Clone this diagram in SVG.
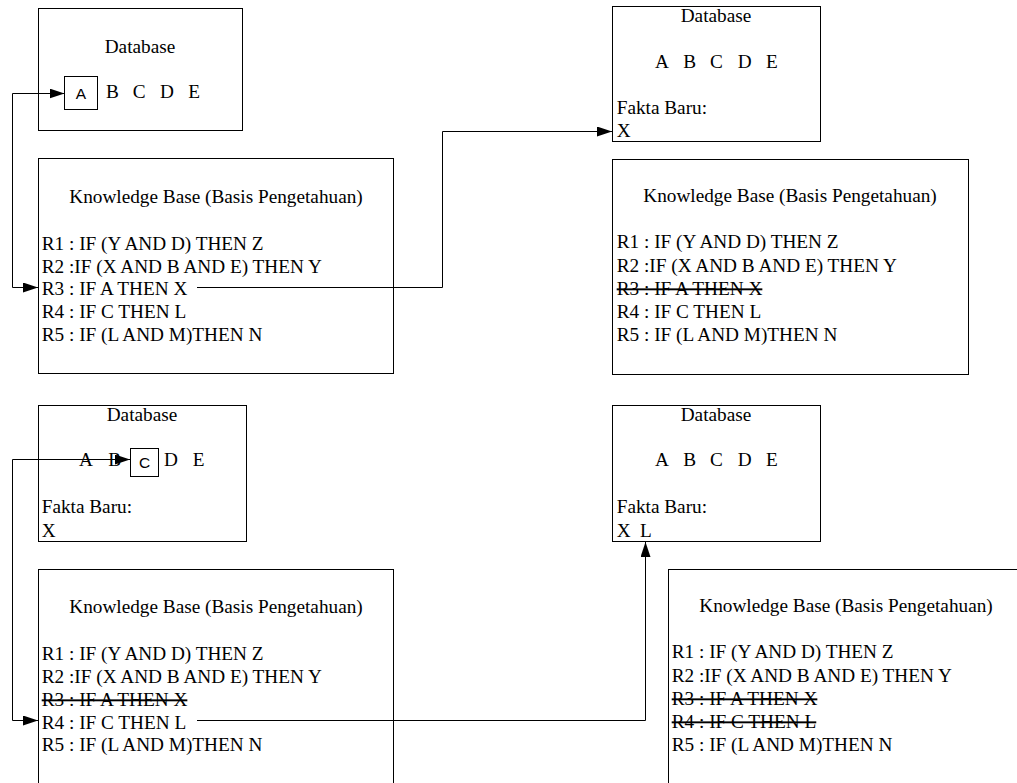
<svg xmlns="http://www.w3.org/2000/svg" width="1017" height="783" viewBox="0 0 1017 783">
  <style>
    .box { fill: #fff; stroke: #000; stroke-width: 1; }
    .t { font-family: "Liberation Serif", "Times New Roman", serif; font-size: 19.25px; fill: #000; }
    .c { text-anchor: middle; }
    .s { font-family: "Liberation Sans", Arial, sans-serif; font-size: 15.5px; fill: #000; text-anchor: middle; }
    .x { text-decoration: line-through; }
    .wire { fill: none; stroke: #000; stroke-width: 1; }
  </style>
  <defs>
    <marker id="arrow" markerUnits="userSpaceOnUse" markerWidth="16" markerHeight="11" refX="15" refY="5" orient="auto-start-reverse">
      <path d="M0,0 L15,5 L0,10 Z" fill="#000"/>
    </marker>
  </defs>

  <rect width="1017" height="783" fill="#fff"/>

  <!-- Step 1: database -->
  <g id="db1">
    <rect class="box" x="38.5" y="8.5" width="204" height="122"/>
    <text class="t c" x="140" y="53">Database</text>
    <rect class="box" x="64.5" y="76.5" width="33" height="33"/>
    <text class="s" x="81" y="98.5">A</text>
    <text class="t" y="98.3"><tspan x="106">B</tspan><tspan x="132.7">C</tspan><tspan x="160">D</tspan><tspan x="188.3">E</tspan></text>
  </g>

  <!-- Step 1: knowledge base -->
  <g id="kb1">
    <rect class="box" x="38.5" y="158.5" width="355" height="215"/>
    <text class="t c" x="216" y="203.3">Knowledge Base (Basis Pengetahuan)</text>
    <text class="t" x="41.7" y="250">R1 : IF (Y AND D) THEN Z</text>
    <text class="t" x="41.7" y="272.7">R2 :IF (X AND B AND E) THEN Y</text>
    <text class="t" x="41.7" y="295.4">R3 : IF A THEN X</text>
    <text class="t" x="41.7" y="318.1">R4 : IF C THEN L</text>
    <text class="t" x="41.7" y="340.8">R5 : IF (L AND M)THEN N</text>
  </g>

  <!-- Step 2: database -->
  <g id="db2">
    <rect class="box" x="612.5" y="6.5" width="208" height="135"/>
    <text class="t c" x="716" y="21.7">Database</text>
    <text class="t" y="67.7"><tspan x="655">A</tspan><tspan x="683.3">B</tspan><tspan x="710">C</tspan><tspan x="737.7">D</tspan><tspan x="766">E</tspan></text>
    <text class="t" x="616.7" y="114.3">Fakta Baru:</text>
    <text class="t" x="616.7" y="136.7">X</text>
  </g>

  <!-- Step 2: knowledge base -->
  <g id="kb2">
    <rect class="box" x="612.5" y="159.5" width="356" height="215"/>
    <text class="t c" x="790" y="202.3">Knowledge Base (Basis Pengetahuan)</text>
    <text class="t" x="616.7" y="248.3">R1 : IF (Y AND D) THEN Z</text>
    <text class="t" x="616.7" y="271.7">R2 :IF (X AND B AND E) THEN Y</text>
    <text class="t x" x="616.7" y="295">R3 : IF A THEN X</text>
    <text class="t" x="616.7" y="318.3">R4 : IF C THEN L</text>
    <text class="t" x="616.7" y="341">R5 : IF (L AND M)THEN N</text>
  </g>

  <!-- Step 3: database -->
  <g id="db3">
    <rect class="box" x="38.5" y="405.5" width="208" height="136"/>
    <text class="t c" x="142" y="420.7">Database</text>
    <text class="t" y="466"><tspan x="79">A</tspan><tspan x="108.3">B</tspan><tspan x="164">D</tspan><tspan x="192.7">E</tspan></text>
    <rect class="box" x="130.5" y="448.5" width="28" height="28"/>
    <text class="s" x="144.5" y="468">C</text>
    <text class="t" x="41.7" y="513.3">Fakta Baru:</text>
    <text class="t" x="41.7" y="536.7">X</text>
  </g>

  <!-- Step 3: knowledge base -->
  <g id="kb3">
    <rect class="box" x="38.5" y="569.5" width="355" height="240"/>
    <text class="t c" x="216" y="613.3">Knowledge Base (Basis Pengetahuan)</text>
    <text class="t" x="41.7" y="660">R1 : IF (Y AND D) THEN Z</text>
    <text class="t" x="41.7" y="683">R2 :IF (X AND B AND E) THEN Y</text>
    <text class="t x" x="41.7" y="706">R3 : IF A THEN X</text>
    <text class="t" x="41.7" y="728.7">R4 : IF C THEN L</text>
    <text class="t" x="41.7" y="751.4">R5 : IF (L AND M)THEN N</text>
  </g>

  <!-- Step 4: database -->
  <g id="db4">
    <rect class="box" x="612.5" y="405.5" width="208" height="136"/>
    <text class="t c" x="716" y="420.7">Database</text>
    <text class="t" y="466"><tspan x="655">A</tspan><tspan x="683.3">B</tspan><tspan x="710">C</tspan><tspan x="737.7">D</tspan><tspan x="766">E</tspan></text>
    <text class="t" x="616.7" y="513.3">Fakta Baru:</text>
    <text class="t" x="616.7" y="536.7">X</text>
    <text class="t" x="640" y="536.7">L</text>
  </g>

  <!-- Step 4: knowledge base -->
  <g id="kb4">
    <rect class="box" x="668.5" y="569.5" width="356" height="240"/>
    <text class="t c" x="846" y="611.7">Knowledge Base (Basis Pengetahuan)</text>
    <text class="t" x="671.7" y="658.3">R1 : IF (Y AND D) THEN Z</text>
    <text class="t" x="671.7" y="681.7">R2 :IF (X AND B AND E) THEN Y</text>
    <text class="t x" x="671.7" y="705">R3 : IF A THEN X</text>
    <text class="t x" x="671.7" y="728">R4 : IF C THEN L</text>
    <text class="t" x="671.7" y="751">R5 : IF (L AND M)THEN N</text>
  </g>

  <!-- Connectors -->
  <g id="connectors">
    <polyline class="wire" points="38,287.5 12.5,287.5 12.5,93.5 64.5,93.5" marker-start="url(#arrow)" marker-end="url(#arrow)"/>
    <polyline class="wire" points="197,287.5 442.5,287.5 442.5,131.5 612,131.5" marker-end="url(#arrow)"/>
    <polyline class="wire" points="38,720.5 12.5,720.5 12.5,459.5 130,459.5" marker-start="url(#arrow)" marker-end="url(#arrow)"/>
    <polyline class="wire" points="197,720.5 645.5,720.5 645.5,542" marker-end="url(#arrow)"/>
  </g>
</svg>
